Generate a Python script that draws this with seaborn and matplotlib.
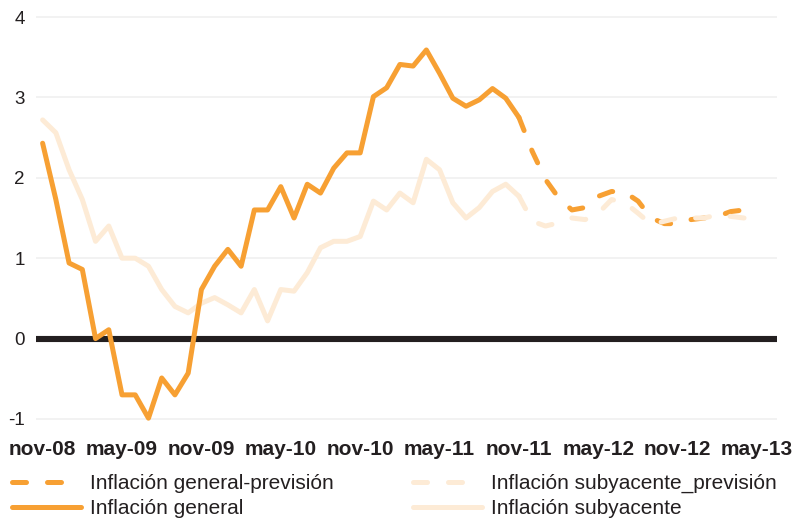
import matplotlib
matplotlib.use("Agg")
import matplotlib.pyplot as plt
from matplotlib.lines import Line2D
import seaborn as sns
import pandas as pd

# etiquetas del eje x (cada 6 meses)
tick_labels = ["nov-08", "may-09", "nov-09", "may-10", "nov-10",
               "may-11", "nov-11", "may-12", "nov-12", "may-13"]

# inflación general observada (nov-08 .. nov-11, mensual)
general = [2.43, 1.73, 0.94, 0.86, 0.00, 0.11, -0.70, -0.70, -0.99, -0.49,
           -0.70, -0.43, 0.61, 0.90, 1.11, 0.90, 1.60, 1.60, 1.89, 1.50,
           1.92, 1.81, 2.12, 2.31, 2.31, 3.01, 3.12, 3.41, 3.39, 3.59,
           3.30, 2.99, 2.89, 2.97, 3.11, 2.99, 2.75]

# previsión de la inflación general (nov-11 .. may-13)
general_prev = [2.75, 2.33, 1.98, 1.75, 1.60, 1.63, 1.77, 1.83, 1.82, 1.71,
                1.50, 1.43, 1.43, 1.48, 1.50, 1.52, 1.58, 1.60, 1.60]

# inflación subyacente observada
subyacente = [2.72, 2.56, 2.10, 1.73, 1.21, 1.40, 1.00, 1.00, 0.90, 0.61,
              0.40, 0.32, 0.44, 0.51, 0.42, 0.32, 0.61, 0.22, 0.61, 0.59,
              0.82, 1.13, 1.21, 1.21, 1.27, 1.71, 1.60, 1.81, 1.69, 2.23,
              2.10, 1.69, 1.50, 1.63, 1.83, 1.92, 1.77]

# previsión de la inflación subyacente
subyacente_prev = [1.77, 1.46, 1.40, 1.44, 1.50, 1.48, 1.56, 1.73, 1.69, 1.56,
                   1.42, 1.46, 1.50, 1.50, 1.50, 1.54, 1.52, 1.50, 1.52]

ORANGE = "#F7A033"
PEACH = "#FDEBD6"
DARK = "#231F20"

sns.set_style("white")
plt.rcParams["font.family"] = ["Liberation Sans", "DejaVu Sans"]

n_obs = len(general)
df_obs = pd.DataFrame({"mes": range(n_obs), "general": general, "subyacente": subyacente})
df_prev = pd.DataFrame({"mes": range(n_obs - 1, n_obs - 1 + len(general_prev)),
                        "general": general_prev, "subyacente": subyacente_prev})

fig = plt.figure(figsize=(7.96, 5.2), dpi=100)
ax = fig.add_axes([36 / 796, 97 / 520, 741 / 796, 410 / 520])

lw = 3.6
dash = (0, (2.8, 4.2))

for y in range(-1, 5):
    ax.axhline(y, color="#F0F0F0", lw=1.2, zorder=0)
ax.axhline(0, color=DARK, lw=4.4, zorder=1)

line_kw = dict(lw=lw, solid_capstyle="round", solid_joinstyle="round",
               dash_capstyle="round", dash_joinstyle="round", ax=ax)
sns.lineplot(data=df_obs, x="mes", y="subyacente", color=PEACH, zorder=2, **line_kw)
sns.lineplot(data=df_prev, x="mes", y="general", color=ORANGE, linestyle=dash,
             zorder=3, **line_kw)
sns.lineplot(data=df_prev, x="mes", y="subyacente", color=PEACH, linestyle=dash,
             zorder=4, **line_kw)
sns.lineplot(data=df_obs, x="mes", y="general", color=ORANGE, zorder=5, **line_kw)

ax.set_xlim(-0.5, 55.5)
ax.set_ylim(-1.05, 4.05)
ax.set_xticks(range(0, 6 * len(tick_labels), 6))
ax.set_xticklabels(tick_labels, fontsize=15, fontweight="bold", color=DARK)
ax.set_yticks(range(-1, 5))
ax.set_yticklabels([str(v) for v in range(-1, 5)], fontsize=13.5, color=DARK)
ax.tick_params(axis="both", length=0)
ax.tick_params(axis="y", pad=8)
ax.tick_params(axis="x", pad=12.5)
ax.set_xlabel("")
ax.set_ylabel("")
sns.despine(ax=ax, left=True, bottom=True)

def handle(color, ls):
    return Line2D([], [], color=color, lw=lw, linestyle=ls,
                  solid_capstyle="round", dash_capstyle="round")

leg_kw = dict(frameon=False, fontsize=15, handlelength=3.3, handletextpad=0.45,
              labelspacing=0.3, borderpad=0, borderaxespad=0, loc="upper left",
              labelcolor=DARK)
fig.legend([handle(ORANGE, dash), handle(ORANGE, "-")],
           ["Inflación general-previsión", "Inflación general"],
           bbox_to_anchor=(12 / 796, 1 - 474 / 520), **leg_kw)
fig.legend([handle(PEACH, dash), handle(PEACH, "-")],
           ["Inflación subyacente_previsión", "Inflación subyacente"],
           bbox_to_anchor=(413 / 796, 1 - 474 / 520), **leg_kw)

fig.savefig("out.png", dpi=100)
